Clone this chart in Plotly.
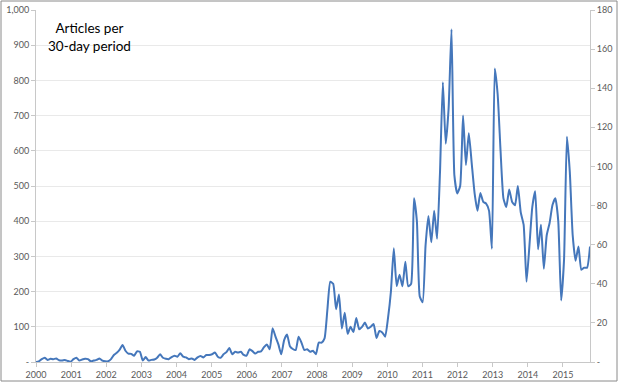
import pandas as pd
import plotly.graph_objects as go

# 30-day periods starting 2000-01-01
n_periods = 193
period_start = pd.date_range("2000-01-01", periods=n_periods, freq="30D")

articles = [
    0, 2, 8, 12, 6, 9, 8, 10, 5, 4, 6, 3, 1, 8, 12, 4, 7, 9, 8, 2, 4, 6, 10, 4,
    2, 2, 8, 20, 26, 35, 48, 32, 24, 23, 18, 30, 29, 4, 14, 4, 6, 7, 12, 22, 12, 9, 8, 14,
    18, 15, 25, 15, 13, 8, 10, 6, 13, 17, 13, 20,
    20, 22, 27, 15, 12, 22, 28, 40, 22, 29, 27, 29, 20, 18, 36, 31, 24, 29, 30, 42,
    50, 36, 96, 72, 50, 22, 62, 78, 45, 37, 34, 72, 55, 34, 36, 29, 32, 22, 55, 55,
    67, 150, 228, 222, 150, 192, 95, 140, 80, 100, 85, 125, 93, 100, 112, 95, 100, 108, 68, 88,
    84, 72, 125, 200, 323, 216, 248, 215, 285, 215, 222, 465, 400, 186, 170, 330, 415, 340, 430, 350,
    536, 795, 620, 720, 945, 530, 479, 500, 700, 560, 650, 565, 480, 430, 480, 455, 450, 430, 322, 834,
    760, 600, 465, 440, 490, 455, 445, 500, 425, 390, 228, 330, 440, 485, 320, 390, 265, 360, 395, 446,
    465, 400, 175, 290, 640, 540, 360, 288, 328, 262, 268, 268, 328,
]

left_ticks = [0, 100, 200, 300, 400, 500, 600, 700, 800, 900, 1000]
left_labels = ["-", "100", "200", "300", "400", "500", "600", "700", "800", "900", "1,000"]
right_ticks = [0, 20, 40, 60, 80, 100, 120, 140, 160, 180]
right_labels = ["-", "20", "40", "60", "80", "100", "120", "140", "160", "180"]

title_text = "Articles per<br>30-day period"

W, H = 620, 384
ml, mr, mt, mb = 36, 30, 10, 22
pw, ph = W - ml - mr, H - mt - mb

tick_font = dict(family="Lato, Open Sans, sans-serif", size=9, color="#595959")
axis_col = "#c8c8c8"

fig = go.Figure()
fig.add_trace(go.Scatter(
    x=period_start, y=articles, mode="lines",
    line=dict(color="#4577BB", width=2, shape="spline", smoothing=0.5),
    hoverinfo="skip", showlegend=False,
))
# anchor trace for the secondary axis (invisible)
fig.add_trace(go.Scatter(
    x=[period_start[0]], y=[0], yaxis="y2", mode="markers",
    marker=dict(opacity=0), hoverinfo="skip", showlegend=False,
))

fig.update_layout(
    width=W, height=H,
    margin=dict(l=ml, r=mr, t=mt, b=mb, autoexpand=False),
    paper_bgcolor="white", plot_bgcolor="white",
    xaxis=dict(
        type="date", automargin=False,
        range=[period_start[0], period_start[-1]],
        tick0="2000-01-01", dtick="M12", tickformat="%Y",
        ticks="outside", ticklen=4, tickcolor=axis_col,
        showline=True, linecolor=axis_col, linewidth=1,
        showgrid=False, zeroline=False,
        tickfont=tick_font,
    ),
    yaxis=dict(
        range=[0, 1000.01], automargin=False,
        tickvals=left_ticks, ticktext=left_labels,
        ticks="outside", ticklen=4, tickcolor=axis_col,
        showline=True, linecolor=axis_col, linewidth=1,
        showgrid=True, gridcolor="#e9e9e9", gridwidth=1,
        zeroline=False, tickfont=tick_font,
    ),
    yaxis2=dict(
        overlaying="y", side="right", anchor="x", automargin=False,
        range=[0, 180.002],
        tickvals=right_ticks, ticktext=right_labels,
        ticks="outside", ticklen=4, tickcolor=axis_col,
        showline=True, linecolor=axis_col, linewidth=1,
        showgrid=False, zeroline=False, tickfont=tick_font,
    ),
    annotations=[dict(
        text=title_text, xref="paper", yref="paper",
        x=(89 - ml) / pw, y=(H - mb - 37) / ph,
        xanchor="center", yanchor="middle", showarrow=False,
        font=dict(family="Lato, Open Sans, sans-serif", size=13.5, color="black"),
    )],
    shapes=[dict(
        type="rect", xref="paper", yref="paper",
        x0=(1 - ml) / pw, x1=(617 - ml) / pw,
        y0=(H - mb - 381) / ph, y1=(H - mb - 1) / ph,
        line=dict(color="#8a8a8a", width=1), fillcolor="rgba(0,0,0,0)",
        layer="below",
    )],
)

fig.write_html(
    "out.html",
    config={"displayModeBar": False, "staticPlot": True},
    post_script="document.body.style.margin='0';document.body.style.padding='0';",
)
